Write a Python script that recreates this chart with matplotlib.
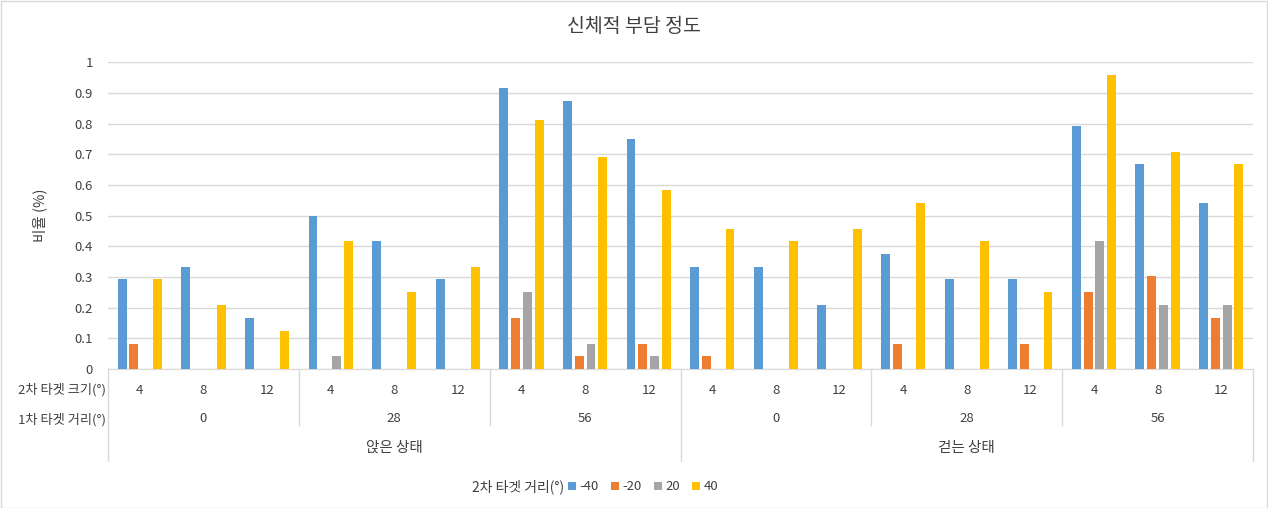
import numpy as np
import matplotlib.pyplot as plt
from matplotlib import transforms
from matplotlib.patches import Rectangle, Patch
from matplotlib.lines import Line2D

plt.rcParams['font.family'] = ['Noto Sans CJK KR', 'DejaVu Sans']

# 데이터
states = ['앉은 상태', '걷는 상태']
distances = ['0', '28', '56']
sizes = ['4', '8', '12']
series = ['-40', '-20', '20', '40']
colors = ['#5B9BD5', '#ED7D31', '#A5A5A5', '#FFC000']

v_m40 = [0.292, 0.333, 0.167, 0.5, 0.417, 0.292, 0.917, 0.875, 0.75,
         0.333, 0.333, 0.208, 0.375, 0.292, 0.292, 0.792, 0.667, 0.542]
v_m20 = [0.083, 0, 0, 0, 0, 0, 0.167, 0.042, 0.083,
         0.042, 0, 0, 0.083, 0, 0.083, 0.25, 0.304, 0.167]
v_20 = [0, 0, 0, 0.042, 0, 0, 0.25, 0.083, 0.042,
        0, 0, 0, 0, 0, 0, 0.417, 0.208, 0.208]
v_40 = [0.292, 0.208, 0.125, 0.417, 0.25, 0.333, 0.813, 0.69, 0.583,
        0.458, 0.417, 0.458, 0.542, 0.417, 0.25, 0.958, 0.708, 0.667]
valores = [v_m40, v_m20, v_20, v_40]

W, H = 1268, 508
fig = plt.figure(figsize=(W / 100, H / 100), dpi=100)


def fy(py):
    return 1 - py / H


y0, y1 = 369, 62.3
ax = fig.add_axes([108 / W, fy(y0), 1145 / W, (y0 - y1) / H])

n = len(v_m40)
x = np.arange(n)
ancho = 0.14
paso = 0.185
for i, (vals, c) in enumerate(zip(valores, colors)):
    ax.bar(x + (i - 1.5) * paso, vals, width=ancho, color=c, zorder=3)

ax.set_xlim(-0.5, n - 0.5)
ax.set_ylim(0, 1)
yt = np.round(np.arange(0, 1.01, 0.1), 1)
ax.set_yticks(yt)
ax.set_yticklabels(['0' if v == 0 else ('1' if v == 1 else f'{v:.1f}') for v in yt],
                   fontsize=9.5, color='#404040')
ax.set_xticks([])
ax.tick_params(axis='y', length=0, pad=11)
ax.grid(axis='y', color='#d9d9d9', linewidth=1, zorder=0)
for s in ['top', 'right', 'left']:
    ax.spines[s].set_visible(False)
ax.spines['bottom'].set_color('#d9d9d9')

fig.text(634 / W, fy(27), '신체적 부담 정도', ha='center', va='center',
         fontsize=14, color='#404040')
fig.text(40 / W, fy(215), '비율 (%)', rotation=90, ha='center', va='center',
         fontsize=10.5, color='#404040')

# 다단계 범주 축
tr = transforms.blended_transform_factory(ax.transData, fig.transFigure)
for k in range(n):
    fig.text(k, fy(390), sizes[k % 3], transform=tr, ha='center', va='center',
             fontsize=9.5, color='#404040')
for g in range(n // 3):
    fig.text(g * 3 + 1, fy(418), distances[g % 3], transform=tr, ha='center',
             va='center', fontsize=9.5, color='#404040')
for s, st in enumerate(states):
    fig.text(s * 9 + 4, fy(448), st, transform=tr, ha='center', va='center',
             fontsize=10.5, color='#404040')

fig.text(106 / W, fy(390), '2차 타겟 크기(°)', ha='right', va='center',
         fontsize=9.5, color='#404040')
fig.text(106 / W, fy(420), '1차 타겟 거리(°)', ha='right', va='center',
         fontsize=9.5, color='#404040')

for b in [2.5, 5.5, 11.5, 14.5]:
    fig.add_artist(Line2D([b, b], [fy(369), fy(425)], transform=tr,
                          color='#d9d9d9', lw=1))
for b in [-0.5, 8.5, n - 0.5]:
    fig.add_artist(Line2D([b, b], [fy(369), fy(461)], transform=tr,
                          color='#d9d9d9', lw=1))

# 범례
handles = [Patch(facecolor=c, edgecolor='none') for c in colors]
fig.legend(handles, series, loc='center left', bbox_to_anchor=(561 / W, fy(487)),
           ncol=4, frameon=False, fontsize=9.5, handlelength=0.6, handleheight=0.6,
           handletextpad=0.3, columnspacing=0.9, borderpad=0, labelcolor='#404040')
fig.text(564 / W, fy(487), '2차 타겟 거리(°)', ha='right', va='center',
         fontsize=10, color='#404040')

fig.add_artist(Rectangle((0.5 / W, 0.5 / H), 1 - 1.5 / W, 1 - 1.5 / H,
                         transform=fig.transFigure, fill=False,
                         edgecolor='#d9d9d9', lw=1))

fig.savefig('out.png', dpi=100)
